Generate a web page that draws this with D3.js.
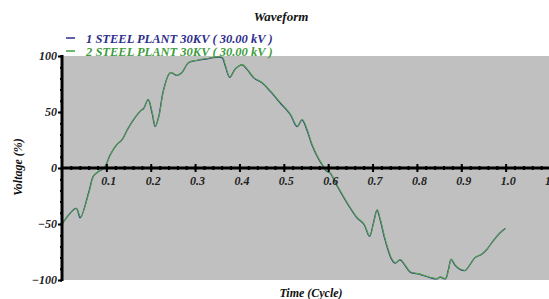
<!DOCTYPE html>
<meta charset="utf-8">
<style>
  body { margin: 0; background: #fff; }
  svg text { font-family: "Liberation Serif", "DejaVu Serif", serif; font-weight: bold; font-style: italic; }
  .line { fill: none; }
</style>
<body>
<script src="https://d3js.org/d3.v7.min.js"></script>
<script>
// waveform samples (time in cycles, voltage in %)
var time = [0.000, 0.032, 0.041, 0.060, 0.071, 0.083, 0.090, 0.098, 0.109, 0.124,
  0.135, 0.147, 0.161, 0.177, 0.184, 0.194, 0.203, 0.210, 0.218, 0.229,
  0.244, 0.259, 0.270, 0.285, 0.304, 0.327, 0.349, 0.361, 0.368, 0.378,
  0.391, 0.406, 0.417, 0.432, 0.451, 0.469, 0.492, 0.514, 0.530, 0.541,
  0.552, 0.563, 0.575, 0.586, 0.597, 0.604, 0.620, 0.642, 0.665, 0.680,
  0.693, 0.702, 0.710, 0.717, 0.728, 0.743, 0.751, 0.762, 0.773, 0.785,
  0.807, 0.830, 0.845, 0.852, 0.864, 0.871, 0.877, 0.886, 0.897, 0.909,
  0.920, 0.931, 0.946, 0.957, 0.972, 0.987, 0.999];
var plant1 = [-50, -36, -44.5, -22, -7, -3, -1.3, 2, 12, 21,
  25, 34, 43, 51, 53, 61, 49, 37, 46, 70,
  85, 82.6, 85, 94, 96, 97.5, 99, 98.4, 91, 81,
  88.6, 92, 88, 80.5, 76, 68.6, 58, 48, 37, 43,
  34, 21, 10.5, 3, -3, -4.3, -16, -31, -44.5, -50,
  -61, -49, -37.6, -46, -64, -81.7, -85, -82, -87, -93,
  -95, -98, -99, -97.5, -99, -90.6, -81.7, -87, -90.6, -91.5,
  -86, -80, -77, -73, -65, -58, -54];
var plant2 = [-50, -36.5, -44, -22.5, -7, -3, -1, 2, 12, 21,
  25.5, 34, 43, 51, 53.5, 61, 49, 37, 46, 70,
  85, 82.5, 85, 94, 96, 97.5, 99, 98.5, 91, 81,
  88.5, 92, 88, 80.5, 76, 68.5, 58, 48, 37, 43,
  34, 21, 10.5, 3, -3, -4.5, -16, -31, -44.5, -50,
  -61, -49, -37.5, -46, -64, -81.5, -85, -82, -87, -93,
  -95, -98, -99, -97.5, -99, -90.5, -81.5, -87, -90.5, -91.5,
  -86, -80, -77, -73, -65, -58, -54];

var seriesNames = ["1 STEEL PLANT 30KV ( 30.00 kV )", "2 STEEL PLANT 30KV ( 30.00 kV )"];
var seriesColors = ["#2d2d8c", "#3f9c3f"];
var xTicks = [0.1, 0.2, 0.3, 0.4, 0.5, 0.6, 0.7, 0.8, 0.9, 1.0, 1.1];
var yTicks = [-100, -50, 0, 50, 100];

var width = 549, height = 299;
var plotLeft = 62, plotTop = 56, plotBottom = 280;

var svg = d3.select("body").append("svg")
  .attr("width", width)
  .attr("height", height);

var x = d3.scaleLinear().domain([0, 1.1]).range([plotLeft, plotLeft + 488]);
var y = d3.scaleLinear().domain([-100, 100]).range([plotBottom, plotTop]);

// plot background
svg.append("rect")
  .attr("x", plotLeft).attr("y", plotTop)
  .attr("width", width - plotLeft).attr("height", plotBottom - plotTop)
  .attr("fill", "#c0c0c0");

// the two traces
var line = d3.line()
  .x(function(d) { return x(d[0]); })
  .y(function(d) { return y(d[1]); })
  .curve(d3.curveCatmullRom);

svg.append("path")
  .datum(d3.zip(time, plant1))
  .attr("class", "line")
  .attr("stroke", seriesColors[0])
  .attr("stroke-width", 1.2)
  .attr("d", line);
svg.append("path")
  .datum(d3.zip(time, plant2))
  .attr("class", "line")
  .attr("stroke", "#4fa34a")
  .attr("stroke-width", 1.1)
  .attr("transform", "translate(0.3,-0.3)")
  .attr("d", line);

// x axis through zero, ticks on both sides
var minorX = d3.range(1, 56).map(function(i) { return i * 0.02; });
var xg = svg.append("g").attr("transform", "translate(0," + y(0) + ")");
xg.append("g").call(d3.axisBottom(x).tickValues(minorX).tickSize(2).tickFormat(""));
xg.append("g").call(d3.axisTop(x).tickValues(minorX).tickSize(2).tickFormat(""));
xg.append("g").call(d3.axisTop(x).tickValues(xTicks).tickSize(4).tickFormat(""));
var xb = xg.append("g").call(d3.axisBottom(x).tickValues(xTicks).tickSize(4).tickPadding(4)
  .tickFormat(d3.format(".1f")));
xg.selectAll("path.domain").remove();
xg.selectAll("line").attr("stroke", "#000").attr("stroke-width", 2);
xb.selectAll("text").attr("font-size", 12).attr("fill", "#222").attr("dx", 2);
xg.append("line")
  .attr("x1", plotLeft).attr("x2", width)
  .attr("stroke", "#000").attr("stroke-width", 3);

// y axis
var minorY = d3.range(-100, 101, 10);
var yg = svg.append("g").attr("transform", "translate(" + plotLeft + ",0)");
yg.append("g").call(d3.axisLeft(y).tickValues(minorY).tickSize(2).tickFormat(""));
var ya = yg.append("g").call(d3.axisLeft(y).tickValues(yTicks).tickSize(4).tickPadding(1));
yg.selectAll("path.domain").remove();
yg.selectAll("line").attr("stroke", "#000").attr("stroke-width", 2);
ya.selectAll("text").attr("font-size", 12).attr("fill", "#222");
yg.append("line")
  .attr("y1", plotTop - 1).attr("y2", plotBottom + 1)
  .attr("stroke", "#000").attr("stroke-width", 3);

// title and axis labels
svg.append("text")
  .attr("x", 281).attr("y", 21)
  .attr("text-anchor", "middle")
  .attr("font-size", 13)
  .attr("fill", "#111")
  .text("Waveform");

svg.append("text")
  .attr("x", 311).attr("y", 297)
  .attr("text-anchor", "middle")
  .attr("font-size", 12)
  .attr("fill", "#111")
  .text("Time (Cycle)");

svg.append("text")
  .attr("transform", "translate(22,167) rotate(-90)")
  .attr("text-anchor", "middle")
  .attr("font-size", 12)
  .attr("fill", "#111")
  .text("Voltage (%)");

// legend
var legend = svg.selectAll(".legend")
  .data(seriesNames)
  .enter().append("g")
  .attr("transform", function(d, i) { return "translate(66," + (43 + i * 13) + ")"; });
legend.append("line")
  .attr("x1", 0).attr("x2", 9)
  .attr("y1", -5).attr("y2", -5)
  .attr("stroke", function(d, i) { return seriesColors[i]; })
  .attr("stroke-width", 1.5);
legend.append("text")
  .attr("x", 20)
  .attr("font-size", 12.5)
  .attr("fill", function(d, i) { return seriesColors[i]; })
  .text(function(d) { return d; });
</script>
</body>
